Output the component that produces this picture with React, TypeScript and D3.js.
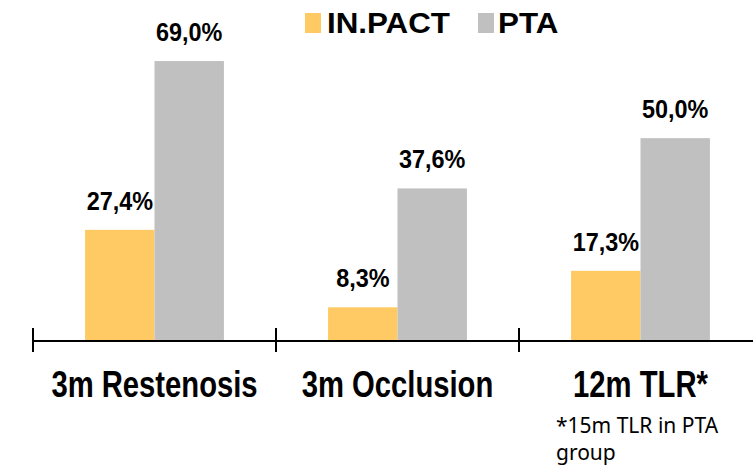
import React from "react";
import * as d3 from "d3";

const categories = ["3m Restenosis", "3m Occlusion", "12m TLR*"];
const seriesNames = ["IN.PACT", "PTA"];
const inpactValues = [27.4, 8.3, 17.3];
const ptaValues = [69.0, 37.6, 50.0];
const valueLabelsInpact = ["27,4%", "8,3%", "17,3%"];
const valueLabelsPta = ["69,0%", "37,6%", "50,0%"];
const colors = ["#FFC964", "#C0C0C0"];
const footnoteLines = ["*15m TLR in PTA", "group"];

const W = 753;
const H = 467;
const FONT = "'Liberation Sans', Arial, Helvetica, sans-serif";

export default function App() {
  const x = d3.scaleBand<string>().domain(categories).range([33, 762]).paddingInner(0).paddingOuter(0);
  const xs = d3
    .scaleBand<string>()
    .domain(seriesNames)
    .range([0, x.bandwidth()])
    .paddingInner(0)
    .paddingOuter(0.75);
  const y = d3.scaleLinear().domain([0, 70]).range([341, 57]);

  const series = [
    { name: seriesNames[0], values: inpactValues, labels: valueLabelsInpact, color: colors[0] },
    { name: seriesNames[1], values: ptaValues, labels: valueLabelsPta, color: colors[1] },
  ];

  const tickXs = categories.map((c) => x(c)!).concat([x(categories[categories.length - 1])! + x.bandwidth()]);

  return (
    <svg
      width={W}
      height={H}
      style={{ position: "absolute", left: 0, top: 0, background: "#fff" }}
    >
      <rect x={0} y={0} width={W} height={H} fill="#fff" />
      {/* bars */}
      {series.map((s) =>
        categories.map((c, i) => {
          const bx = x(c)! + xs(s.name)!;
          const bw = xs.bandwidth();
          const top = y(s.values[i]);
          return (
            <g key={s.name + c}>
              <rect x={bx} y={top} width={bw} height={y(0) - top} fill={s.color} />
              <text
                transform={`translate(${bx + bw / 2},${top - 20}) scale(0.9,1)`}
                textAnchor="middle"
                fontFamily={FONT}
                fontWeight="bold"
                fontSize={26}
                fill="#000"
              >
                {s.labels[i]}
              </text>
            </g>
          );
        })
      )}
      {/* axis */}
      <line x1={33} x2={W} y1={341} y2={341} stroke="#000" strokeWidth={2} />
      {tickXs.map((tx, i) => (
        <line key={i} x1={tx} x2={tx} y1={328} y2={352} stroke="#000" strokeWidth={2} />
      ))}
      {/* category labels */}
      {categories.map((c) => (
        <text
          key={c}
          transform={`translate(${x(c)! + x.bandwidth() / 2},397) scale(0.79,1)`}
          textAnchor="middle"
          fontFamily={FONT}
          fontWeight="bold"
          fontSize={37}
          fill="#000"
        >
          {c}
        </text>
      ))}
      {/* legend */}
      {[
        { rx: 305, tx: 327 },
        { rx: 478, tx: 498 },
      ].map((p, i) => (
        <g key={i}>
          <rect x={p.rx} y={13} width={16} height={20} fill={colors[i]} />
          <text
            transform={`translate(${p.tx},33) scale(1.08,1)`}
            fontFamily={FONT}
            fontWeight="bold"
            fontSize={29}
            fill="#000"
          >
            {seriesNames[i]}
          </text>
        </g>
      ))}
      {/* footnote */}
      {footnoteLines.map((t, i) => (
        <text
          key={i}
          x={556}
          y={433 + i * 27}
          fontFamily="'Noto Sans', 'Open Sans', sans-serif"
          fontSize={21}
          fill="#000"
        >
          {t}
        </text>
      ))}
    </svg>
  );
}
